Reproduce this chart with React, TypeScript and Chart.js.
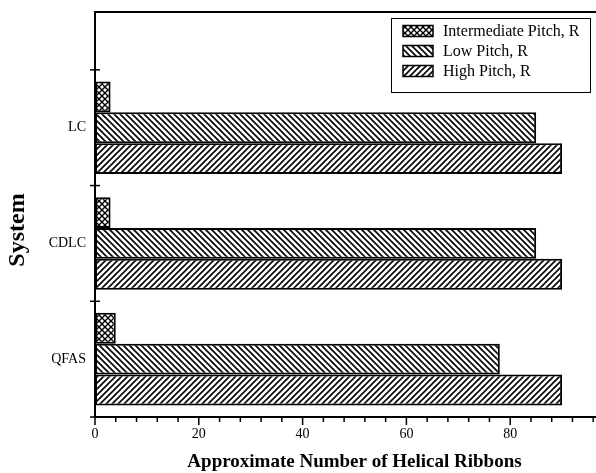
import React, { useEffect, useRef } from 'react';
import { Chart, registerables } from 'chart.js';

Chart.register(...registerables);

// ---- data ----
const systems = ['LC', 'CDLC', 'QFAS'];
const systemPositions = [1, 2, 3];
const intermediatePitch = [3, 3, 4];
const lowPitch = [85, 85, 78];
const highPitch = [90, 90, 90];
const seriesLabels = ['Intermediate Pitch, R', 'Low Pitch, R', 'High Pitch, R'];
const xLabelTicks = [0, 20, 40, 60, 80, 100];
const yBoundaryTicks = [0.5, 1.5, 2.5, 3.5];
const xTitle = 'Approximate Number of Helical Ribbons';
const yTitle = 'System';

const FONT = '"Liberation Serif", "Times New Roman", Times, serif';

function makePattern(kind: 'cross' | 'back' | 'fwd'): CanvasPattern | string {
  const s = 6;
  const c = document.createElement('canvas');
  c.width = s;
  c.height = s;
  const g = c.getContext('2d');
  if (!g) return '#fff';
  g.fillStyle = '#fff';
  g.fillRect(0, 0, s, s);
  g.strokeStyle = '#000';
  g.lineWidth = kind === 'cross' ? 1.4 : 1.6;
  g.lineCap = 'square';
  const fwd = () => {
    g.beginPath();
    g.moveTo(-1, s + 1);
    g.lineTo(s + 1, -1);
    g.moveTo(-1, 1);
    g.lineTo(1, -1);
    g.moveTo(s - 1, s + 1);
    g.lineTo(s + 1, s - 1);
    g.stroke();
  };
  const back = () => {
    g.beginPath();
    g.moveTo(-1, -1);
    g.lineTo(s + 1, s + 1);
    g.moveTo(s - 1, -1);
    g.lineTo(s + 1, 1);
    g.moveTo(-1, s - 1);
    g.lineTo(1, s + 1);
    g.stroke();
  };
  if (kind === 'fwd') fwd();
  else if (kind === 'back') back();
  else {
    fwd();
    back();
  }
  return g.createPattern(c, 'repeat') || '#fff';
}

export default function App() {
  const ref = useRef<HTMLCanvasElement>(null);

  useEffect(() => {
    const canvas = ref.current;
    if (!canvas) return;
    const patterns = [makePattern('cross'), makePattern('back'), makePattern('fwd')];
    const seriesValues = [intermediatePitch, lowPitch, highPitch];
    const toPoints = (vals: number[]) => vals.map((v, i) => ({ x: v, y: systemPositions[i] }));

    const framePlugin = {
      id: 'frameTicks',
      afterDraw(chart: any) {
        const ctx = chart.ctx as CanvasRenderingContext2D;
        const { left, right, top, bottom } = chart.chartArea;
        const xs = chart.scales.x;
        const ys = chart.scales.y;
        ctx.save();
        ctx.strokeStyle = '#000';
        ctx.lineWidth = 2;
        // top frame line
        ctx.beginPath();
        ctx.moveTo(left - 1, top);
        ctx.lineTo(right, top);
        ctx.stroke();
        // y boundary ticks (crossing the axis)
        ctx.lineWidth = 1.5;
        for (const v of yBoundaryTicks) {
          const y = ys.getPixelForValue(v);
          ctx.beginPath();
          ctx.moveTo(left - 5, y);
          ctx.lineTo(left + 5, y);
          ctx.stroke();
        }
        // x ticks: major every 20, minor every 4
        for (let v = 0; v <= 100; v += 4) {
          const x = xs.getPixelForValue(v);
          const major = v % 20 === 0;
          ctx.beginPath();
          ctx.moveTo(x, bottom);
          ctx.lineTo(x, bottom + (major ? 8 : 5));
          ctx.stroke();
        }
        // y title
        ctx.fillStyle = '#000';
        ctx.font = `bold 24px ${FONT}`;
        ctx.textAlign = 'center';
        ctx.textBaseline = 'middle';
        ctx.translate(18, 230);
        ctx.rotate(-Math.PI / 2);
        ctx.fillText(yTitle, 0, 0);
        ctx.restore();

        // legend
        ctx.save();
        const lx = 391;
        const ly = 18;
        const lw = 199;
        const lh = 74;
        ctx.fillStyle = '#fff';
        ctx.fillRect(lx, ly, lw, lh);
        ctx.strokeStyle = '#000';
        ctx.lineWidth = 1;
        ctx.strokeRect(lx + 0.5, ly + 0.5, lw, lh);
        ctx.font = `16px ${FONT}`;
        ctx.textBaseline = 'middle';
        ctx.textAlign = 'left';
        chart.data.datasets.forEach((ds: any, i: number) => {
          const cy = 31 + i * 20;
          ctx.fillStyle = ds.backgroundColor;
          ctx.fillRect(403, cy - 5.5, 30, 11);
          ctx.lineWidth = 1.5;
          ctx.strokeStyle = '#000';
          ctx.strokeRect(403, cy - 5.5, 30, 11);
          ctx.fillStyle = '#000';
          ctx.fillText(ds.label, 443, cy + 1);
        });
        ctx.restore();
      },
    };

    const chart = new Chart(canvas, {
      type: 'bar',
      data: {
        datasets: seriesLabels.map((label, i) => ({
          label,
          data: toPoints(seriesValues[i]),
          backgroundColor: patterns[i] as any,
          borderColor: '#000',
          borderWidth: 2,
          borderSkipped: false,
          categoryPercentage: 0.8,
          barPercentage: 1.0,
        })),
      },
      options: {
        indexAxis: 'y',
        animation: false,
        responsive: false,
        layout: { padding: { top: 12, right: 26, left: 0, bottom: 0 } },
        plugins: {
          legend: { display: false },
          tooltip: { enabled: false },
        },
        scales: {
          x: {
            type: 'linear',
            min: 0,
            max: 100,
            offset: false,
            afterBuildTicks: (s: any) => {
              s.ticks = xLabelTicks.map((v) => ({ value: v }));
            },
            afterFit: (s: any) => {
              s.height = 56;
              s.paddingLeft = 0;
              s.paddingRight = 0;
            },
            grid: { display: false, drawTicks: false, offset: false },
            border: { display: true, color: '#000', width: 2 },
            ticks: {
              padding: 9,
              color: '#000',
              maxRotation: 0,
              autoSkip: false,
              font: { family: FONT, size: 14 },
            },
            title: {
              display: true,
              text: xTitle,
              color: '#000',
              padding: 0,
              font: { family: FONT, size: 19, weight: 'bold' },
            },
          },
          y: {
            type: 'linear',
            min: 0,
            max: 3.5,
            reverse: true,
            offset: false,
            afterBuildTicks: (s: any) => {
              s.ticks = systemPositions.map((v) => ({ value: v }));
            },
            afterFit: (s: any) => {
              s.width = 95;
              s.paddingTop = 0;
              s.paddingBottom = 0;
            },
            grid: { display: false, drawTicks: false, offset: false },
            border: { display: true, color: '#000', width: 2 },
            ticks: {
              padding: 9,
              color: '#000',
              autoSkip: false,
              font: { family: FONT, size: 14 },
              callback: (v: any) => {
                const i = systemPositions.indexOf(Number(v));
                return i >= 0 ? systems[i] : '';
              },
            },
          },
        },
      } as any,
      plugins: [framePlugin],
    });

    return () => chart.destroy();
  }, []);

  return (
    <div
      style={{
        position: 'fixed',
        left: 0,
        top: 0,
        width: 596,
        height: 473,
        overflow: 'hidden',
        background: '#fff',
      }}
    >
      <canvas ref={ref} width={640} height={473} style={{ width: 640, height: 473, display: 'block' }} />
    </div>
  );
}
